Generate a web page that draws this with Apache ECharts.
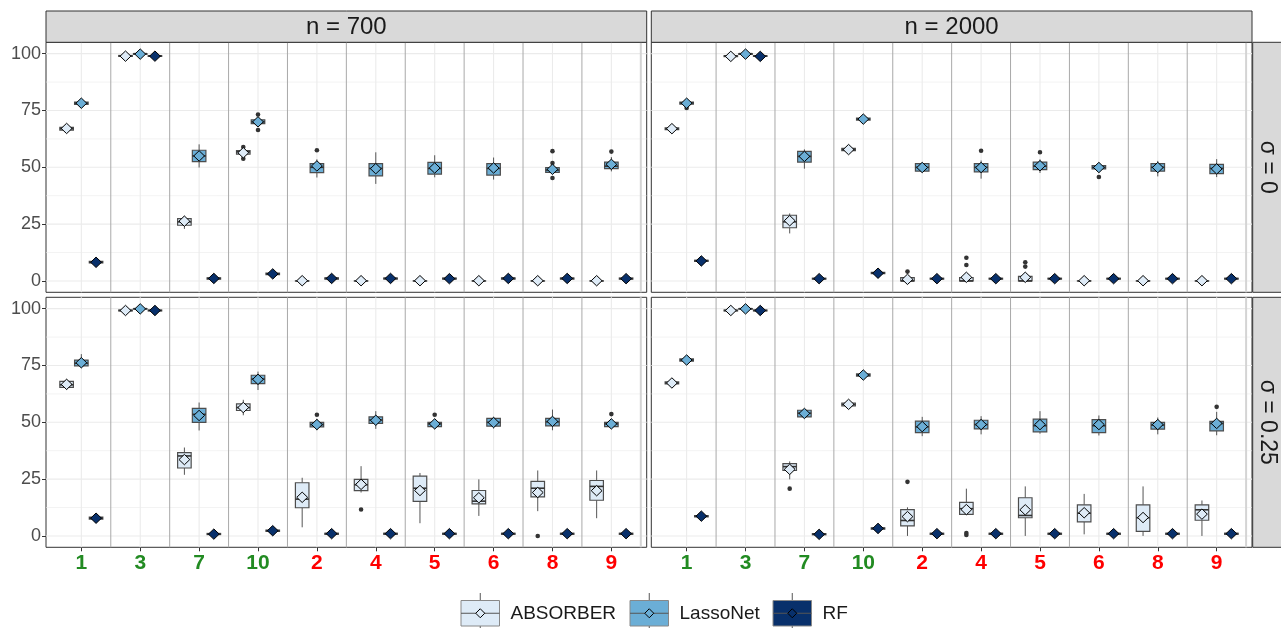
<!DOCTYPE html>
<html><head><meta charset="utf-8">
<script src="https://cdn.jsdelivr.net/npm/echarts@6/dist/echarts.min.js"></script>
<style>html,body{margin:0;padding:0;background:#fff}#chart{width:1281px;height:628px}</style>
</head><body><div id="chart"></div>
<script>
const categories = ['1','3','7','10','2','4','5','6','8','9'];
const trueVariables = ['1','3','7','10'];
const methods = ['ABSORBER','LassoNet','RF'];
const columnLabels = ['n = 700','n = 2000'];
const rowLabels = ['σ = 0','σ = 0.25'];
const yTickValues = [0,25,50,75,100];

// each row: [lower whisker, Q1, median, Q3, upper whisker, mean], in category order
const absorber_n700_s0 = [
 [65.9,66.4,67,67.6,68.1,67.1],[98.5,98.8,99,99.2,99.4,98.9],[22.9,24.5,26,27.4,28.6,26.3],[55.3,55.8,56.8,57.3,57.8,56.4],
 [0,0,0,0,0,0.1],[0,0,0,0,0,0.1],[0,0,0,0,0,0.1],[0,0,0,0,0,0.1],[0,0,0,0,0,0.1],[0,0,0,0,0,0.1]];
const lassonet_n700_s0 = [
 [77.2,77.7,78.2,78.7,79.1,78.2],[99.5,99.7,100,100,100,99.8],[49.9,52.5,55,57.5,60.1,55],[68.6,69.2,70,70.9,71.6,70],
 [45.5,47.7,50,51.6,53.5,50.6],[42.7,46.2,49.5,51.6,56.6,49.4],[45.6,47,49.5,52.2,55.3,49.7],[44.6,46.6,49.5,51.6,54.3,49.7],
 [47.4,47.8,48.8,49.9,50.6,49.1],[48.2,49.4,50.5,52.3,54.5,51.3]];
const rf_n700_s0 = [
 [7.6,7.9,8.2,8.6,8.9,8.2],[98.6,98.8,99,99.1,99.3,98.9],[0.5,0.8,1.1,1.4,1.7,1.1],[2.4,2.8,3.1,3.5,3.8,3.1],
 [0.5,0.8,1.1,1.4,1.7,1.1],[0.5,0.8,1.1,1.3,1.6,1.1],[0.5,0.8,1.0,1.3,1.6,1.0],[0.5,0.8,1.1,1.4,1.7,1.1],[0.5,0.8,1.1,1.3,1.6,1.1],[0.5,0.8,1.0,1.3,1.6,1.0]];
const outliers_n700_s0 = [
 ['ABSORBER','10',58.9],['ABSORBER','10',53.8],['LassoNet','10',73.2],['LassoNet','10',66.4],['LassoNet','2',57.5],
 ['LassoNet','8',57.1],['LassoNet','8',51.9],['LassoNet','8',45.3],['LassoNet','9',56.9]];

const absorber_n2000_s0 = [
 [66.3,66.6,67,67.4,67.7,67],[98.5,98.7,99,99.1,99.3,98.8],[20.9,23.4,26,28.9,29.7,26.5],[57,57.3,57.8,58.3,58.6,57.8],
 [0,0,0,1.5,2.5,0.7],[0,0,0,1.5,3,1.6],[0,0,0,2,3.5,1.6],[0,0,0,0,0,0.1],[0,0,0,0,0,0.1],[0,0,0,0,0,0.1]];
const lassonet_n2000_s0 = [
 [77.4,77.8,78.3,78.7,79,78.2],[99.5,99.7,100,100,100,99.8],[49.4,52.3,54.8,57,57.9,54.8],[70.5,70.8,71.2,71.6,72,71.2],
 [48,48.3,50,51.6,51.8,49.9],[45,48,50,51.6,53,49.9],[47.5,49,50.5,52.3,53.5,50.7],[48.9,49.3,50,50.8,51.2,49.9],
 [46,48.3,50,51.6,52.8,49.9],[45.7,47.2,49.5,51.3,53.6,49.3]];
const rf_n2000_s0 = [
 [8.3,8.6,8.9,9.1,9.4,8.8],[98.6,98.8,99,99.1,99.3,98.8],[0.6,0.8,1,1.2,1.4,1],[3,3.2,3.5,3.8,4,3.4],
 [0.6,0.8,1,1.2,1.4,1],[0.6,0.8,1,1.2,1.4,1],[0.6,0.8,1,1.2,1.4,1],[0.6,0.8,1,1.2,1.4,1],[0.6,0.8,1,1.2,1.4,1],[0.6,0.8,1,1.2,1.4,1]];
const outliers_n2000_s0 = [
 ['LassoNet','1',76.1],['ABSORBER','2',4.1],['ABSORBER','4',7],['ABSORBER','4',10.2],['ABSORBER','5',6.3],['ABSORBER','5',8.2],
 ['LassoNet','4',57.3],['LassoNet','5',56.6],['LassoNet','6',45.7]];

const absorber_n700_s25 = [
 [64.3,65.4,66.5,68,69,66.7],[98.8,99,99.2,99.4,99.6,99.2],[26.9,29.9,35.2,36.7,38.9,33.6],[53.1,55.2,56.5,58.1,59.9,56.5],
 [3.8,12.4,16.2,23.4,25.6,17],[19.1,19.9,22.5,24.9,30.7,22.7],[5.6,15.2,21,26.3,27.7,20],[8.8,14.1,15.3,20,24.9,16.8],
 [10.9,17.2,21,24,28.8,19.1],[7.8,15.7,21.8,24.4,28.8,19.9]];
const lassonet_n700_s25 = [
 [74,74.8,76,77.4,80,76.2],[99.6,99.8,100,100,100,99.9],[46.4,50,53.5,56.1,58.7,53],[64.2,67,69,70.7,72.3,68.9],
 [46.5,48,49,50,51.5,49],[47.1,49.5,51,52.4,54.9,50.9],[47,48.1,49.3,50,51.5,49.3],[47.3,48.3,50,51.7,52.4,49.9],
 [46.5,48.4,50.2,51.7,55.6,50.4],[47.3,48.1,49.3,50,51.5,49.3]];
const rf_n700_s25 = [
 [7,7.4,7.8,8.3,8.6,7.8],[98.8,99,99.2,99.4,99.6,99.2],[0.4,0.6,0.8,1.1,1.3,0.8],[1.8,2,2.3,2.6,2.9,2.3],
 [0.5,0.7,1,1.2,1.4,1],[0.5,0.7,1,1.2,1.4,1],[0.5,0.7,1,1.2,1.4,1],[0.5,0.7,1,1.2,1.4,1],[0.5,0.7,1,1.2,1.4,1],[0.5,0.7,1,1.2,1.4,1]];
const outliers_n700_s25 = [
 ['ABSORBER','4',11.6],['ABSORBER','8',0],['LassoNet','2',53.3],['LassoNet','5',53.3],['LassoNet','9',53.6]];

const absorber_n2000_s25 = [
 [66.5,66.9,67.3,67.8,68.2,67.3],[98.8,99,99.2,99.4,99.6,99.2],[24.9,28.8,30.5,31.8,32.8,29.3],[56.8,57.2,57.9,58.5,58.9,57.9],
 [0,4.4,6.8,11.6,12.6,8.5],[9.2,9.5,12,14.8,20.8,11.6],[0,8,9,16.8,21.8,11.5],[0.7,6.2,10,13.7,18.5,10.2],
 [0,2,8,13.7,21.8,8.1],[0,6.9,11.5,13.7,15.6,9.6]];
const lassonet_n2000_s25 = [
 [76.5,76.9,77.4,77.9,78.3,77.4],[99.6,99.8,100,100,100,99.9],[52,52.4,54,55.3,55.8,53.9],[69.8,70.3,70.8,71.3,71.8,70.8],
 [43.9,45.5,48,50.5,52.4,48.1],[44.7,47.1,49,50.9,52.7,49],[45,45.8,48.5,51.4,54.9,49],[44.2,45.5,48.5,51.2,53,49],
 [44.7,47,48.8,50,52.1,49],[44.3,46.2,49.5,50.4,54.6,49.5]];
const rf_n2000_s25 = [
 [8.1,8.4,8.7,9,9.3,8.7],[98.8,99,99.2,99.4,99.6,99.2],[0.3,0.5,0.8,1,1.2,0.7],[2.8,3,3.3,3.6,3.9,3.3],
 [0.5,0.7,1,1.2,1.4,1],[0.5,0.7,1,1.2,1.4,1],[0.5,0.7,1,1.2,1.4,1],[0.5,0.7,1,1.2,1.4,1],[0.5,0.7,1,1.2,1.4,1],[0.5,0.7,1,1.2,1.4,1]];
const outliers_n2000_s25 = [
 ['ABSORBER','7',20.8],['ABSORBER','2',23.8],['ABSORBER','4',0.4],['ABSORBER','4',1.3],['LassoNet','9',56.8]];

const panels = [
 {row:0,col:0,boxes:{ABSORBER:absorber_n700_s0,LassoNet:lassonet_n700_s0,RF:rf_n700_s0},outliers:outliers_n700_s0},
 {row:0,col:1,boxes:{ABSORBER:absorber_n2000_s0,LassoNet:lassonet_n2000_s0,RF:rf_n2000_s0},outliers:outliers_n2000_s0},
 {row:1,col:0,boxes:{ABSORBER:absorber_n700_s25,LassoNet:lassonet_n700_s25,RF:rf_n700_s25},outliers:outliers_n700_s25},
 {row:1,col:1,boxes:{ABSORBER:absorber_n2000_s25,LassoNet:lassonet_n2000_s25,RF:rf_n2000_s25},outliers:outliers_n2000_s25}
];

// ---------- styling / layout ----------
const FONT = '"Liberation Sans", Arial, Helvetica, sans-serif';
const fills = {ABSORBER:'#deebf7', LassoNet:'#6baed6', RF:'#08306b'};
const dodge = {ABSORBER:-0.25, LassoNet:0, RF:0.25};
const BOX_W = 0.23;
const L = {left:[46,651.3], top:[42.3,297.3], w:600.7, h:250, stripTop:11, stripRight:1252.7};

const grids=[], xAxes=[], yAxes=[], series=[], graphics=[];
const catPos = categories.map((c,i)=>i+1);
const minorY = yTickValues.slice(1).map((v,i)=>(v+yTickValues[i])/2);

panels.forEach((p, gi) => {
  const {row, col} = p;
  grids.push({left:L.left[col], top:L.top[row], width:L.w, height:L.h, show:true,
    borderColor:'#333', borderWidth:1, backgroundColor:'#fff'});
  xAxes.push({type:'value', gridIndex:gi, min:0.4, max:10.6, position:'bottom',
    axisLine:{show:false, onZero:false}, splitLine:{show:false},
    axisTick:{show:row===1, customValues:catPos, length:4, lineStyle:{color:'#333'}},
    axisLabel:{show:row===1, customValues:catPos, margin:5,
      formatter:v=>{const c=categories[Math.round(v)-1]; return '{'+(trueVariables.includes(c)?'t':'f')+'|'+c+'}';},
      rich:{t:{color:'#228B22',fontWeight:'bold',fontSize:21,fontFamily:FONT},
            f:{color:'#FF0000',fontWeight:'bold',fontSize:21,fontFamily:FONT}}}});
  yAxes.push({type:'value', gridIndex:gi, min:-5, max:105, position:'left',
    axisLine:{show:false, onZero:false}, splitLine:{show:false},
    axisTick:{show:col===0, customValues:yTickValues, length:4, lineStyle:{color:'#333'}},
    axisLabel:{show:col===0, customValues:yTickValues, margin:5, color:'#4d4d4d', fontSize:18, fontFamily:FONT}});

  // grid lines: kind 0 major-h, 1 minor-h, 2 major-v, 3 separator-v
  const gl = [];
  yTickValues.forEach(v=>gl.push([0,v]));
  minorY.forEach(v=>gl.push([1,v]));
  catPos.forEach(v=>gl.push([2,v]));
  catPos.forEach(v=>gl.push([3,v+0.5]));
  series.push({type:'custom', xAxisIndex:gi, yAxisIndex:gi, silent:true, z:1, data:gl,
    renderItem:(params, api)=>{
      const cs=params.coordSys, k=api.value(0), v=api.value(1);
      if (k<2){ const y=api.coord([1,v])[1];
        return {type:'line', shape:{x1:cs.x,y1:y,x2:cs.x+cs.width,y2:y}, style:{stroke:'#ebebeb',lineWidth:k===0?1.1:0.6}}; }
      const x=api.coord([v,0])[0];
      const last = (k===3 && v>categories.length);
      return {type:'line', shape:{x1:x,y1:cs.y,x2:x,y2:cs.y+cs.height},
        style:{stroke:k===2?'#ebebeb':(last?'#d4d4d4':'#a9a9a9'), lineWidth:k===2?1.1:(last?2:1)}};
    }});

  methods.forEach((m, mi) => {
    const od = p.outliers.filter(o=>o[0]===m).map(o=>[categories.indexOf(o[1])+1, o[2]]);
    series.push({type:'custom', xAxisIndex:gi, yAxisIndex:gi, silent:true, z:2, data:od,
      renderItem:(params, api)=>{
        const pt=api.coord([api.value(0)+dodge[m], api.value(1)]);
        return {type:'circle', shape:{cx:pt[0],cy:pt[1],r:2.3}, style:{fill:'#333'}};
      }});
    series.push({type:'custom', name:m, xAxisIndex:gi, yAxisIndex:gi, silent:true, z:3,
      data:p.boxes[m].map((s,i)=>[i+1].concat(s)),
      renderItem:(params, api)=>{
        const xc=api.coord([api.value(0)+dodge[m],0])[0];
        const Y=k=>api.coord([0,api.value(k)])[1];
        const yLo=Y(1), yQ1=Y(2), yMd=Y(3), yQ3=Y(4), yHi=Y(5), yMn=Y(6);
        const bw=api.size([BOX_W,0])[0];
        const rx=5.4, ry=5.2;
        return {type:'group', children:[
          {type:'line', shape:{x1:xc,y1:yQ1,x2:xc,y2:yLo}, style:{stroke:'#555',lineWidth:1}},
          {type:'line', shape:{x1:xc,y1:yQ3,x2:xc,y2:yHi}, style:{stroke:'#555',lineWidth:1}},
          {type:'rect', shape:{x:xc-bw/2,y:yQ3,width:bw,height:Math.max(yQ1-yQ3,0.01)}, style:{fill:fills[m],stroke:'#4d4d4d',lineWidth:1.2}},
          {type:'line', shape:{x1:xc-bw/2,y1:yMd,x2:xc+bw/2,y2:yMd}, style:{stroke:'#333',lineWidth:1.6}},
          {type:'polygon', shape:{points:[[xc,yMn-ry],[xc+rx,yMn],[xc,yMn+ry],[xc-rx,yMn]]}, style:{fill:fills[m],stroke:'#000',lineWidth:1}}
        ]};
      }});
  });
});

// strips
columnLabels.forEach((t,c)=>{
  graphics.push({type:'rect', shape:{x:L.left[c], y:L.stripTop, width:L.w, height:L.top[0]-L.stripTop}, style:{fill:'#d9d9d9', stroke:'#333', lineWidth:1}, z:10});
  graphics.push({type:'text', x:L.left[c]+L.w/2, y:(L.stripTop+L.top[0])/2+1, style:{text:t, fontSize:24, fontFamily:FONT, fill:'#1a1a1a', align:'center', verticalAlign:'middle'}, z:11});
});
rowLabels.forEach((t,r)=>{
  graphics.push({type:'rect', shape:{x:L.stripRight, y:L.top[r], width:30, height:L.h}, style:{fill:'#d9d9d9', stroke:'#333', lineWidth:1}, z:10});
  graphics.push({type:'text', x:L.stripRight+14.5, y:L.top[r]+L.h/2, rotation:-Math.PI/2, style:{text:t, fontSize:23, fontFamily:FONT, fill:'#1a1a1a', align:'center', verticalAlign:'middle'}, z:11});
});

// legend
const legendX = [461, 630, 773];
methods.forEach((m,i)=>{
  const x=legendX[i], y=600.5, w=38.5, h=25.5, cx=x+w/2, cy=y+h/2;
  graphics.push({type:'line', shape:{x1:cx,y1:593,x2:cx,y2:y}, style:{stroke:'#555',lineWidth:1}, z:10});
  graphics.push({type:'line', shape:{x1:cx,y1:y+h,x2:cx,y2:632}, style:{stroke:'#555',lineWidth:1}, z:10});
  graphics.push({type:'rect', shape:{x:x,y:y,width:w,height:h}, style:{fill:fills[m],stroke:'#888',lineWidth:1}, z:10});
  graphics.push({type:'line', shape:{x1:x,y1:cy,x2:x+w,y2:cy}, style:{stroke:'#555',lineWidth:1}, z:11});
  graphics.push({type:'polygon', shape:{points:[[cx,cy-4.5],[cx+4.5,cy],[cx,cy+4.5],[cx-4.5,cy]]}, style:{fill:fills[m],stroke:'#000',lineWidth:1}, z:12});
  graphics.push({type:'text', x:x+w+11, y:cy+1, style:{text:m, fontSize:19, fontFamily:FONT, fill:'#1a1a1a', align:'left', verticalAlign:'middle'}, z:12});
});

const chart = echarts.init(document.getElementById('chart'), null, {renderer:'canvas'});
chart.setOption({
  animation:false, backgroundColor:'#fff',
  grid:grids, xAxis:xAxes, yAxis:yAxes, series:series, graphic:graphics
});
</script></body></html>
